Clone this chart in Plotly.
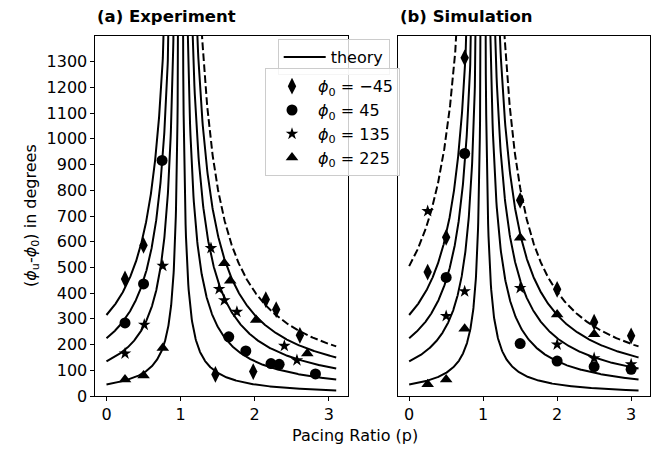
import numpy as np
import plotly.graph_objects as go

# ---------------- data ----------------
# theory constants (degrees) for branches p<1 and p>1
exp_theory_low = [45, 135, 225, 315]          # solid, p < 1 (experiment panel)
exp_theory_high = [45, 135, 225, 315]         # solid, p > 1
exp_theory_high_dash = [405]                  # dashed, p > 1
sim_theory_low = [45, 135, 225, 315]
sim_theory_low_dash = [505]
sim_theory_high = [45, 135, 225, 315]
sim_theory_high_dash = [405]

phi0_labels = ["\u221245", "45", "135", "225"]

# experiment data (p, value)
exp_m45_p = [0.25, 0.5, 1.47, 1.98, 2.15, 2.29, 2.61]
exp_m45_v = [455, 586, 84, 95, 375, 336, 236]
exp_45_p = [0.25, 0.5, 0.75, 1.65, 1.88, 2.22, 2.33, 2.82]
exp_45_v = [284, 436, 916, 230, 175, 126, 123, 86]
exp_135_p = [0.25, 0.51, 0.76, 1.41, 1.52, 1.59, 1.76, 2.40, 2.57]
exp_135_v = [165, 277, 506, 575, 416, 372, 327, 195, 139]
exp_225_p = [0.25, 0.5, 0.76, 1.59, 1.67, 2.02, 2.71]
exp_225_v = [64, 80, 187, 516, 448, 296, 165]

# simulation data
sim_m45_p = [0.25, 0.5, 0.75, 1.5, 2.0, 2.5, 3.0]
sim_m45_v = [482, 617, 1315, 761, 415, 287, 234]
sim_45_p = [0.5, 0.75, 1.5, 2.0, 2.5, 3.0]
sim_45_v = [461, 943, 204, 136, 114, 104]
sim_135_p = [0.25, 0.5, 0.75, 1.5, 2.0, 2.5, 3.0]
sim_135_v = [719, 311, 407, 420, 200, 147, 123]
sim_225_p = [0.25, 0.5, 0.75, 1.5, 2.0, 2.5]
sim_225_v = [46, 64, 262, 615, 317, 240]

x_ticks = [0, 1, 2, 3]
y_ticks = list(range(0, 1301, 100))

FONT = "DejaVu Sans"
FS = 16
W, H = 667, 452
ML, MR, MT, MB = 0, 0, 36, 56


def branch(c, low):
    if low:
        p = np.linspace(0, 1 - c / 3000.0, 400)
        return p, c / (1 - p)
    p = np.linspace(1 + c / 3000.0, 3.1, 400)
    return p, c / (p - 1)


fig = go.Figure()


def add_theory(cs, low, dash, xa, ya, first=False):
    for i, c in enumerate(cs):
        p, v = branch(c, low)
        fig.add_trace(go.Scatter(
            x=p, y=v, mode="lines", xaxis=xa, yaxis=ya,
            line=dict(color="black", width=2, dash=("7.7px,3.3px" if dash else "solid")),
            name="theory", legend="legend", showlegend=(first and i == 0),
            hoverinfo="skip"))


add_theory(exp_theory_low, True, False, "x", "y", first=True)
add_theory(exp_theory_high, False, False, "x", "y")
add_theory(exp_theory_high_dash, False, True, "x", "y")
add_theory(sim_theory_low, True, False, "x2", "y2")
add_theory(sim_theory_low_dash, True, True, "x2", "y2")
add_theory(sim_theory_high, False, False, "x2", "y2")
add_theory(sim_theory_high_dash, False, True, "x2", "y2")

symbols = ["diamond-tall", "circle", "star", "triangle-up"]
sizes = [12, 11, 9.5, 11]
exp_sets = [(exp_m45_p, exp_m45_v), (exp_45_p, exp_45_v), (exp_135_p, exp_135_v), (exp_225_p, exp_225_v)]
sim_sets = [(sim_m45_p, sim_m45_v), (sim_45_p, sim_45_v), (sim_135_p, sim_135_v), (sim_225_p, sim_225_v)]

for i in range(4):
    name = "<i>\u03d5</i><sub>0</sub> = " + phi0_labels[i]
    fig.add_trace(go.Scatter(
        x=exp_sets[i][0], y=exp_sets[i][1], mode="markers", xaxis="x", yaxis="y",
        marker=dict(symbol=symbols[i], size=sizes[i], color="black", line=dict(width=0)),
        name=name, legend="legend2", showlegend=True))
    fig.add_trace(go.Scatter(
        x=sim_sets[i][0], y=sim_sets[i][1], mode="markers", xaxis="x2", yaxis="y2",
        marker=dict(symbol=symbols[i], size=sizes[i], color="black", line=dict(width=0)),
        name=name, legend="legend2", showlegend=False))

PW = W - ML - MR
PH = H - MT - MB


def px_x(px):
    return (px - ML) / PW


def px_y(py):
    return (H - MB - py) / PH


axis_common = dict(showline=True, linecolor="black", linewidth=1.1, mirror=True,
                   ticks="outside", ticklen=3.5, tickwidth=1.1, tickcolor="black",
                   showgrid=False, zeroline=False,
                   tickfont=dict(family=FONT, size=FS, color="black"))

fig.update_layout(
    width=W, height=H,
    margin=dict(l=ML, r=MR, t=MT, b=MB),
    paper_bgcolor="white", plot_bgcolor="white",
    font=dict(family=FONT, size=FS, color="black"),
    xaxis=dict(domain=[px_x(95), px_x(347.7)], range=[-0.155, 3.255],
               tickvals=x_ticks, anchor="y", **axis_common),
    yaxis=dict(domain=[0, 1], range=[0, 1400], tickvals=y_ticks, anchor="x", **axis_common),
    xaxis2=dict(domain=[px_x(397.7), px_x(650)], range=[-0.155, 3.255],
                tickvals=x_ticks, anchor="y2", **axis_common),
    yaxis2=dict(domain=[0, 1], range=[0, 1400], tickvals=y_ticks, anchor="x2",
                showticklabels=False, **{k: v for k, v in axis_common.items() if k != "ticks"},
                ticks=""),
    legend=dict(x=px_x(277.7), y=px_y(39), xanchor="left", yanchor="top",
                bgcolor="rgba(255,255,255,0.8)", bordercolor="#cccccc", borderwidth=1,
                font=dict(family=FONT, size=FS, color="black"), itemwidth=42),
    legend2=dict(x=px_x(265), y=px_y(68.3), xanchor="left", yanchor="top",
                 bgcolor="rgba(255,255,255,0.8)", bordercolor="#cccccc", borderwidth=1,
                 font=dict(family=FONT, size=FS, color="black"), itemwidth=42,
                 tracegroupgap=0),
    showlegend=True,
)

fig.add_annotation(text="<b>(a) Experiment</b>", xref="paper", yref="paper",
                   x=px_x(95), y=px_y(17), xanchor="left", yanchor="middle",
                   showarrow=False, font=dict(family=FONT, size=16.5, color="black"))
fig.add_annotation(text="<b>(b) Simulation</b>", xref="paper", yref="paper",
                   x=px_x(397.7), y=px_y(17), xanchor="left", yanchor="middle",
                   showarrow=False, font=dict(family=FONT, size=16.5, color="black"))
fig.add_annotation(text="(<i>\u03d5</i><sub>u</sub>-<i>\u03d5</i><sub>0</sub>) in degrees",
                   xref="paper", yref="paper", x=px_x(31), y=px_y(216),
                   xanchor="center", yanchor="middle", textangle=-90, showarrow=False,
                   font=dict(family=FONT, size=FS, color="black"))
fig.add_annotation(text="Pacing Ratio (p)", xref="paper", yref="paper",
                   x=px_x(355), y=px_y(435), xanchor="center", yanchor="middle",
                   showarrow=False, font=dict(family=FONT, size=FS, color="black"))

fig.write_html("out.html")
